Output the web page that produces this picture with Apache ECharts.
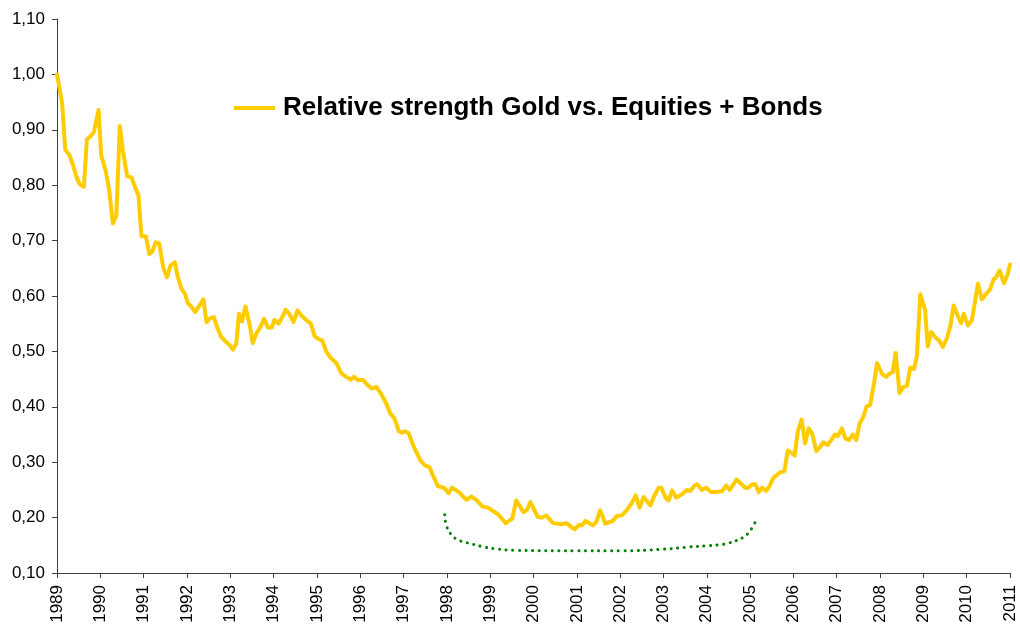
<!DOCTYPE html>
<html>
<head>
<meta charset="utf-8">
<title>Relative strength Gold vs. Equities + Bonds</title>
<script src="https://cdn.jsdelivr.net/npm/echarts@6/dist/echarts.min.js"></script>
<style>
    html, body { margin: 0; padding: 0; background: #fff; }
    #chart { width: 1020px; height: 626px; }
</style>
</head>
<body>
<div id="chart"></div>
<script>
//x轴年份刻度
var years = [1989, 1990, 1991, 1992, 1993, 1994, 1995, 1996, 1997, 1998, 1999,
    2000, 2001, 2002, 2003, 2004, 2005, 2006, 2007, 2008, 2009, 2010, 2011];

//主线：时间（年份小数）
var dates = [
    1989.00, 1989.12, 1989.19, 1989.29, 1989.37, 1989.45, 1989.52, 1989.62, 1989.69, 1989.77, 1989.85, 1989.96,
    1990.02, 1990.12, 1990.20, 1990.29, 1990.37, 1990.45, 1990.52, 1990.62, 1990.72, 1990.80, 1990.88, 1990.95,
    1991.05, 1991.13, 1991.20, 1991.28, 1991.36, 1991.45, 1991.54, 1991.62, 1991.72, 1991.78, 1991.87, 1991.95,
    1992.02, 1992.10, 1992.19, 1992.29, 1992.38, 1992.45, 1992.54, 1992.62, 1992.70, 1992.79, 1992.89, 1992.99,
    1993.06, 1993.14, 1993.20, 1993.27, 1993.35, 1993.45, 1993.52, 1993.60, 1993.70, 1993.78, 1993.87, 1993.96,
    1994.02, 1994.12, 1994.22, 1994.28, 1994.37, 1994.46, 1994.55, 1994.64, 1994.76, 1994.86, 1994.95,
    1995.04, 1995.12, 1995.22, 1995.33, 1995.45, 1995.56, 1995.66, 1995.78, 1995.85, 1995.95,
    1996.06, 1996.16, 1996.27, 1996.37, 1996.47, 1996.58, 1996.69, 1996.79, 1996.89, 1996.96,
    1997.04, 1997.12, 1997.22, 1997.31, 1997.39, 1997.50, 1997.60, 1997.68, 1997.79, 1997.95,
    1998.04, 1998.12, 1998.28, 1998.45, 1998.56, 1998.68, 1998.82, 1998.95,
    1999.06, 1999.18, 1999.36, 1999.51, 1999.60, 1999.77, 1999.85, 1999.93,
    2000.10, 2000.20, 2000.29, 2000.45, 2000.64, 2000.77, 2000.87, 2000.95,
    2001.05, 2001.12, 2001.20, 2001.37, 2001.45, 2001.54, 2001.66, 2001.83, 2001.92,
    2002.04, 2002.15, 2002.26, 2002.36, 2002.45, 2002.54, 2002.70, 2002.79, 2002.89, 2002.95,
    2003.05, 2003.12, 2003.20, 2003.29, 2003.43, 2003.54, 2003.62, 2003.72, 2003.78, 2003.89, 2003.99,
    2004.10, 2004.22, 2004.36, 2004.45, 2004.53, 2004.69, 2004.79, 2004.89, 2004.96,
    2005.05, 2005.12, 2005.20, 2005.28, 2005.37, 2005.45, 2005.54, 2005.68, 2005.79, 2005.87, 2005.95,
    2006.03, 2006.10, 2006.19, 2006.27, 2006.35, 2006.43, 2006.53, 2006.60, 2006.69, 2006.79, 2006.87, 2006.96,
    2007.02, 2007.12, 2007.20, 2007.28, 2007.37, 2007.45, 2007.53, 2007.62, 2007.69, 2007.77, 2007.86, 2007.93,
    2008.05, 2008.14, 2008.22, 2008.29, 2008.36, 2008.45, 2008.53, 2008.62, 2008.70, 2008.78, 2008.85, 2008.93,
    2009.04, 2009.10, 2009.18, 2009.28, 2009.37, 2009.45, 2009.54, 2009.62, 2009.70, 2009.80, 2009.87, 2009.93,
    2010.03, 2010.12, 2010.26, 2010.35, 2010.45, 2010.54, 2010.62, 2010.68, 2010.76, 2010.86, 2010.95, 2011.00
];

//主线：相对强度值
var ratio = [
    1.000, 0.947, 0.864, 0.854, 0.836, 0.815, 0.802, 0.797, 0.883, 0.888, 0.896, 0.936,
    0.854, 0.827, 0.794, 0.731, 0.746, 0.907, 0.863, 0.816, 0.814, 0.797, 0.782, 0.708,
    0.708, 0.676, 0.680, 0.697, 0.695, 0.652, 0.634, 0.655, 0.661, 0.637, 0.613, 0.605,
    0.587, 0.581, 0.571, 0.583, 0.594, 0.553, 0.560, 0.562, 0.543, 0.526, 0.518, 0.511,
    0.503, 0.514, 0.568, 0.554, 0.581, 0.547, 0.515, 0.532, 0.545, 0.559, 0.543, 0.543,
    0.557, 0.550, 0.565, 0.575, 0.567, 0.553, 0.574, 0.565, 0.556, 0.550, 0.527,
    0.522, 0.520, 0.499, 0.487, 0.479, 0.461, 0.455, 0.449, 0.454, 0.448,
    0.449, 0.440, 0.433, 0.436, 0.425, 0.409, 0.389, 0.379, 0.356, 0.353,
    0.356, 0.352, 0.331, 0.316, 0.303, 0.294, 0.291, 0.276, 0.257, 0.253,
    0.244, 0.254, 0.246, 0.232, 0.238, 0.232, 0.220, 0.218,
    0.212, 0.206, 0.190, 0.198, 0.231, 0.210, 0.214, 0.228,
    0.201, 0.200, 0.204, 0.190, 0.188, 0.190, 0.183, 0.179,
    0.187, 0.186, 0.194, 0.186, 0.192, 0.213, 0.189, 0.194, 0.203,
    0.204, 0.213, 0.225, 0.240, 0.218, 0.237, 0.222, 0.240, 0.254, 0.254,
    0.236, 0.231, 0.249, 0.236, 0.242, 0.250, 0.248, 0.258, 0.260, 0.250, 0.254,
    0.246, 0.246, 0.248, 0.258, 0.250, 0.269, 0.261, 0.254, 0.254,
    0.260, 0.260, 0.246, 0.254, 0.248, 0.257, 0.272, 0.281, 0.284, 0.321, 0.317,
    0.312, 0.355, 0.377, 0.334, 0.361, 0.352, 0.320, 0.326, 0.336, 0.331, 0.340, 0.350,
    0.347, 0.361, 0.343, 0.340, 0.350, 0.340, 0.370, 0.383, 0.401, 0.403, 0.442, 0.479,
    0.459, 0.454, 0.460, 0.462, 0.497, 0.425, 0.435, 0.438, 0.471, 0.468, 0.491, 0.603,
    0.575, 0.509, 0.535, 0.525, 0.519, 0.508, 0.523, 0.545, 0.583, 0.563, 0.551, 0.568,
    0.547, 0.556, 0.622, 0.594, 0.604, 0.612, 0.630, 0.634, 0.646, 0.623, 0.640, 0.657
];

//绿色点线（底部弧线）
var smileDates = [1997.95, 1998.00, 1998.12, 1998.25, 1998.40, 1998.55, 1998.80, 1999.10,
    1999.55, 2001.00, 2002.00, 2003.00, 2003.60, 2004.00, 2004.30, 2004.50, 2004.70, 2004.85,
    2004.97, 2005.05, 2005.12];
var smileValues = [0.205, 0.183, 0.168, 0.160, 0.156, 0.153, 0.148, 0.144,
    0.141, 0.140, 0.140, 0.143, 0.147, 0.149, 0.151, 0.154, 0.159, 0.165,
    0.173, 0.182, 0.192];

var legendName = 'Relative strength Gold vs. Equities + Bonds';

//组合成[x, y]数据
function zip(xs, ys) {
    var out = [], i;
    for (i = 0; i < xs.length; i++) {
        out.push([xs[i], ys[i]]);
    }
    return out;
}

var chart = echarts.init(document.getElementById('chart'), null, { renderer: 'canvas' });

var axisColor = '#404040',
    fontFamily = '"Liberation Sans", Arial, sans-serif';

var option = {
    animation: false,
    backgroundColor: '#fff',
    textStyle: { fontFamily: fontFamily },
    grid: {
        left: 57,
        right: 10,
        top: 19,
        bottom: 53,
        containLabel: false
    },
    legend: {
        data: [legendName],
        left: 229,
        top: 90,
        icon: 'rect',
        itemWidth: 41,
        itemHeight: 4,
        itemGap: 0,
        textStyle: {
            fontFamily: fontFamily,
            fontSize: 26,
            fontWeight: 'bold',
            color: '#000',
            padding: [0, 0, 0, 3]
        }
    },
    xAxis: {
        type: 'value',
        min: years[0],
        max: years[years.length - 1],
        interval: 1,
        splitLine: { show: false },
        axisLine: { lineStyle: { color: axisColor, width: 1 } },
        axisTick: { length: 5, lineStyle: { color: axisColor } },
        axisLabel: {
            rotate: 90,
            margin: 12,
            fontSize: 17,
            color: '#000',
            fontFamily: fontFamily,
            formatter: function (v) { return String(Math.round(v)); }
        }
    },
    yAxis: {
        type: 'value',
        min: 0.1,
        max: 1.1,
        interval: 0.1,
        splitLine: { show: false },
        axisLine: { show: true, lineStyle: { color: axisColor, width: 1 } },
        axisTick: { show: true, length: 5, lineStyle: { color: axisColor } },
        axisLabel: {
            margin: 12,
            fontSize: 17,
            color: '#000',
            fontFamily: fontFamily,
            formatter: function (v) { return v.toFixed(2).replace('.', ','); }
        }
    },
    series: [
        {
            name: legendName,
            type: 'line',
            data: zip(dates, ratio),
            showSymbol: false,
            symbol: 'none',
            color: '#FFCC00',
            lineStyle: { color: '#FFCC00', width: 4, join: 'round', cap: 'round' },
            z: 3
        },
        {
            name: 'smile',
            type: 'line',
            data: zip(smileDates, smileValues),
            smooth: true,
            showSymbol: false,
            symbol: 'none',
            lineStyle: { color: '#008000', width: 3, type: [0.1, 6.5], cap: 'round' },
            z: 2
        }
    ]
};

chart.setOption(option);
</script>
</body>
</html>
